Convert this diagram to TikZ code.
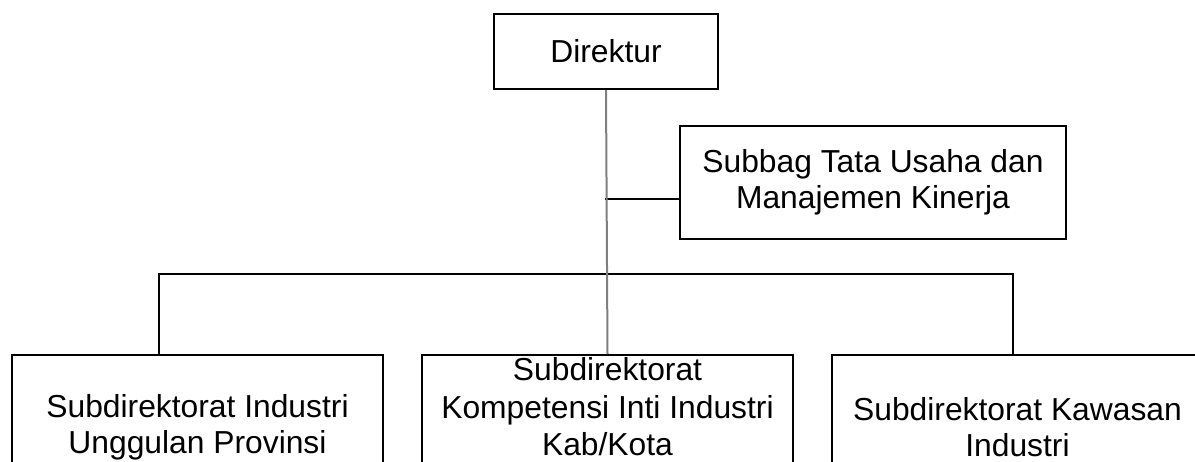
\documentclass[tikz,border=0pt]{standalone}
\usepackage{fontspec}
\setmainfont{Liberation Sans}
\usetikzlibrary{positioning}
\definecolor{OrgGrey}{HTML}{7F7F7F}

\begin{document}
\begin{tikzpicture}[x=0.5pt, y=-0.5pt, node distance=18.5pt,
        unit/.style={rectangle, draw=black, line width=1pt, fill=white, align=center, inner sep=0pt, font=\fontsize{15.9}{18}\selectfont},
        subunit/.style={unit, anchor=north west, minimum width=185.5pt, minimum height=72pt},
        link/.style={line width=1pt, black},
        trunk/.style={line width=1pt, OrgGrey}]
    \useasboundingbox (0,0) rectangle (1195,461);

    \node[unit, anchor=north west, minimum width=112pt, minimum height=37.5pt] (dir) at (493,13) {Direktur};
    \node[unit, anchor=north west, minimum width=193pt, minimum height=56.5pt] (tu) at (679,125) {Subbag Tata Usaha dan\\Manajemen Kinerja};

    \node[subunit] (prov) at (11,354) {Subdirektorat Industri\\Unggulan Provinsi};
    \node[subunit, right=of prov.north east, anchor=north west, text depth=20.3pt, font=\fontsize{15.9}{18.7}\selectfont] (kab) {Subdirektorat\\Kompetensi Inti Industri\\Kab/Kota};
    \node[subunit, right=of kab.north east, anchor=north west] (kaw) {Subdirektorat Kawasan\\Industri};

    \coordinate (tap) at (605,199);
    \coordinate (busL) at (159,274);
    \coordinate (busR) at (1013,274);

    \draw[link] (tap) -- (tap -| tu.west);
    \draw[link] (prov.north -| busL) -- (busL) -- (busR) -- (kaw.north -| busR);
    \draw[trunk] (dir.south) -- (kab.north);
\end{tikzpicture}
\end{document}
